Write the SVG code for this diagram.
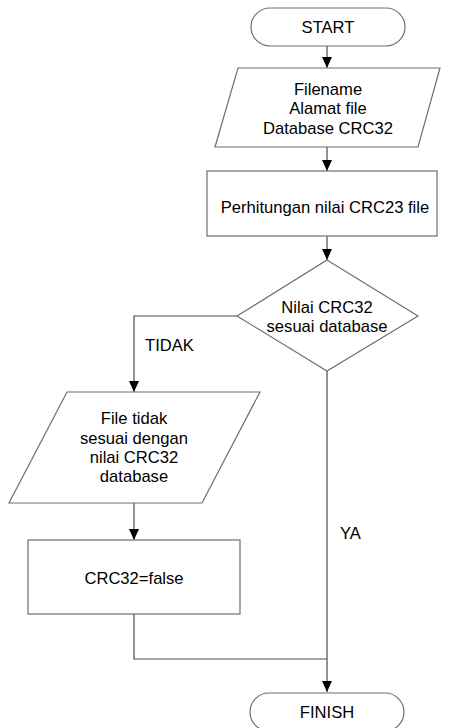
<svg xmlns="http://www.w3.org/2000/svg" width="453" height="728" viewBox="0 0 453 728">
<defs>
<marker id="ah" markerWidth="11" markerHeight="10" refX="11" refY="5" orient="auto" markerUnits="userSpaceOnUse" viewBox="0 0 11 10">
<path d="M0,0 L11,5 L0,10 Z" fill="#000"/>
</marker>
</defs>
<style>
.shape{fill:#fff;stroke:#6e6e6e;stroke-width:1.2}
.conn{fill:none;stroke:#4a4a4a;stroke-width:1.2}
text{font-family:"Liberation Sans",Arial,sans-serif;font-size:16.6px;fill:#000;text-anchor:middle;dominant-baseline:central}
.lbl{text-anchor:start}
</style>
<rect width="453" height="728" fill="#fff"/>
<g id="connectors">
<path class="conn" d="M327,46 V68" marker-end="url(#ah)"/>
<path class="conn" d="M327,147 V171" marker-end="url(#ah)"/>
<path class="conn" d="M327,236 V260" marker-end="url(#ah)"/>
<path class="conn" d="M237,316 H134 V392" marker-end="url(#ah)"/>
<path class="conn" d="M134,503 V540" marker-end="url(#ah)"/>
<path class="conn" d="M327,371 V692" marker-end="url(#ah)"/>
<path class="conn" d="M134,614 V659 H327"/>
<text class="lbl" x="145" y="345">TIDAK</text>
<text class="lbl" x="340" y="533">YA</text>
</g>
<g id="start">
<rect class="shape" x="251" y="8" width="154" height="38" rx="19" ry="19"/>
<text x="328" y="27">START</text>
</g>
<g id="input">
<polygon class="shape" points="238,68 440,68 418,147 215,147"/>
<text x="328" y="89">Filename</text>
<text x="328" y="108">Alamat file</text>
<text x="328" y="128">Database CRC32</text>
</g>
<g id="process">
<rect class="shape" x="207" y="171" width="230" height="65"/>
<text x="325" y="207">Perhitungan nilai CRC23 file</text>
</g>
<g id="decision">
<polygon class="shape" points="327,260 418,316 327,371 237,316"/>
<text x="327" y="307">Nilai CRC32</text>
<text x="327" y="326">sesuai database</text>
</g>
<g id="output">
<polygon class="shape" points="67,392 260,392 202,503 9,503"/>
<text x="134" y="418">File tidak</text>
<text x="134" y="438">sesuai dengan</text>
<text x="134" y="457">nilai CRC32</text>
<text x="134" y="476">database</text>
</g>
<g id="setfalse">
<rect class="shape" x="28" y="540" width="212" height="74"/>
<text x="134" y="578">CRC32=false</text>
</g>
<g id="finish">
<rect class="shape" x="250" y="693" width="154" height="38" rx="19" ry="19"/>
<text x="327" y="712">FINISH</text>
</g>
</svg>
